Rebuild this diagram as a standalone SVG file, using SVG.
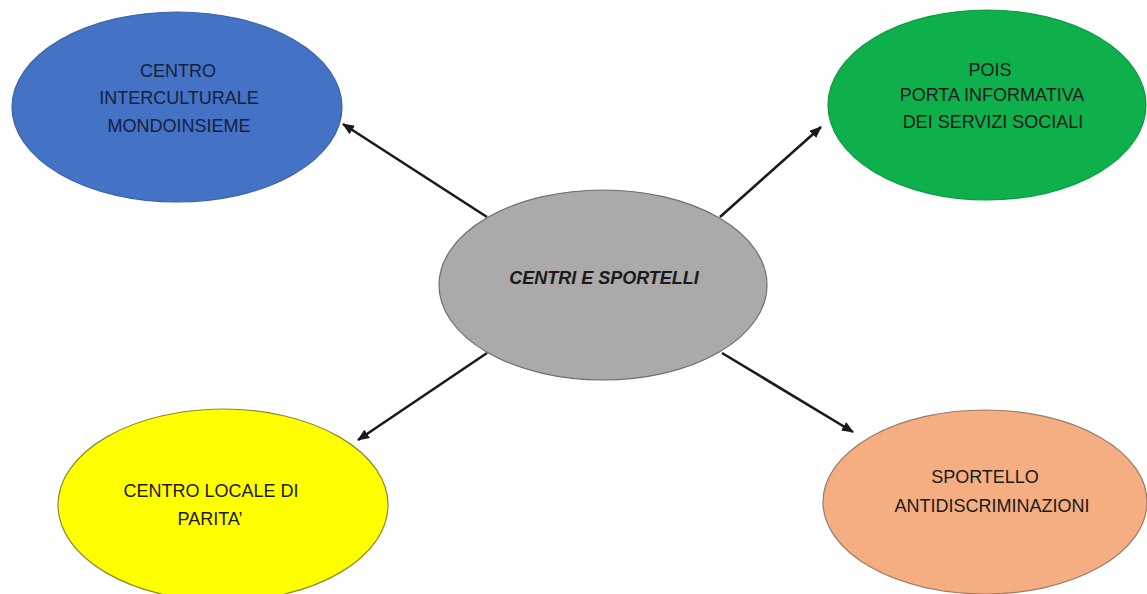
<svg xmlns="http://www.w3.org/2000/svg" width="1147" height="594" viewBox="0 0 1147 594">
  <style>
    .node ellipse { stroke-width: 1.2; }
    .lbl { font-family: "Liberation Sans", Arial, sans-serif; font-size: 18px; fill: #1a1a1a; text-anchor: middle; }
    .dark { fill: #14213d; }
    .title { font-family: "Liberation Sans", Arial, sans-serif; font-size: 18px; font-weight: bold; font-style: italic; fill: #1a1a1a; text-anchor: middle; }
    .conn line { stroke: #1a1a1a; stroke-width: 2.6; marker-end: url(#arrow); }
  </style>
  <defs>
    <marker id="arrow" markerUnits="userSpaceOnUse" markerWidth="12" markerHeight="10" refX="11" refY="5" orient="auto">
      <path d="M0,0 L12,5 L0,10 Z" fill="#1a1a1a"/>
    </marker>
  </defs>
  <rect width="1147" height="594" fill="#ffffff"/>
  <g id="connectors" class="conn">
    <line x1="487" y1="217" x2="343" y2="124"/>
    <line x1="720" y1="217" x2="821" y2="127"/>
    <line x1="487" y1="353" x2="358" y2="440"/>
    <line x1="722" y1="353" x2="853" y2="432"/>
  </g>
  <g id="node-center" class="node">
    <ellipse cx="603" cy="285" rx="164" ry="95" fill="#ABA9A9" stroke="#6d6d6d"/>
    <text class="title" x="604" y="284">CENTRI E SPORTELLI</text>
  </g>
  <g id="node-mondoinsieme" class="node">
    <ellipse cx="177" cy="107" rx="165" ry="95" fill="#4472C4" stroke="#3a62a8"/>
    <text class="lbl dark" x="178" y="77">CENTRO</text>
    <text class="lbl dark" x="179" y="104">INTERCULTURALE</text>
    <text class="lbl dark" x="179" y="132">MONDOINSIEME</text>
  </g>
  <g id="node-pois" class="node">
    <ellipse cx="987" cy="105" rx="159" ry="95" fill="#0DB04B" stroke="#0a9a40"/>
    <text class="lbl" x="990" y="76">POIS</text>
    <text class="lbl" x="992" y="101">PORTA INFORMATIVA</text>
    <text class="lbl" x="993" y="128">DEI SERVIZI SOCIALI</text>
  </g>
  <g id="node-parita" class="node">
    <ellipse cx="223" cy="505" rx="165" ry="96" fill="#FFFF00" stroke="#8a8a30"/>
    <text class="lbl" x="211" y="497">CENTRO LOCALE DI</text>
    <text class="lbl" x="210" y="525">PARITA’</text>
  </g>
  <g id="node-antidiscriminazioni" class="node">
    <ellipse cx="985" cy="502" rx="162" ry="92" fill="#F4AE82" stroke="#9a7a66"/>
    <text class="lbl" x="985" y="483">SPORTELLO</text>
    <text class="lbl" x="992" y="512">ANTIDISCRIMINAZIONI</text>
  </g>
</svg>
